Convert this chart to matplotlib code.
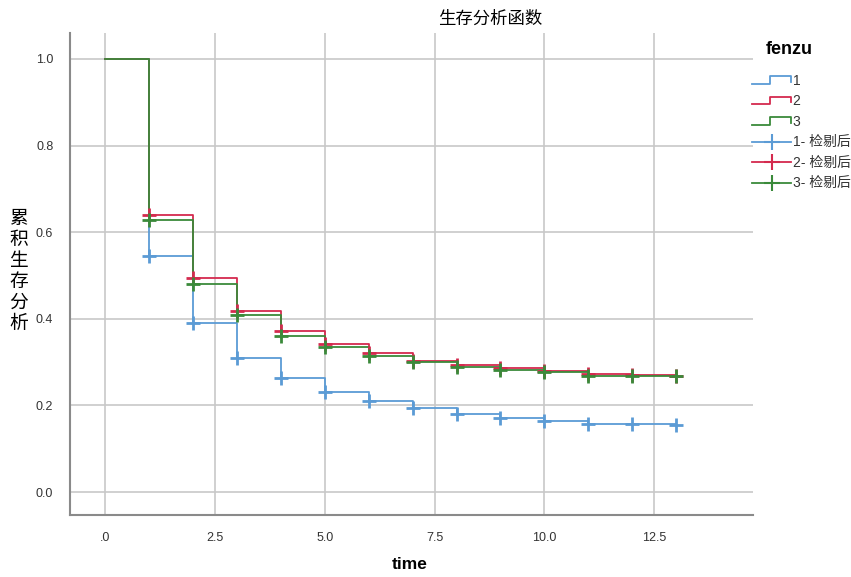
import matplotlib
matplotlib.use('Agg')
import matplotlib.pyplot as plt
from matplotlib.lines import Line2D
from matplotlib.legend_handler import HandlerBase

plt.rcParams['font.family'] = ['Liberation Sans', 'Noto Sans CJK SC', 'DejaVu Sans']

# survival data
times = [0, 1, 2, 3, 4, 5, 6, 7, 8, 9, 10, 11, 12, 13]
surv_1 = [1.0, 0.545, 0.390, 0.310, 0.264, 0.232, 0.211, 0.193, 0.181, 0.172, 0.165, 0.158, 0.156, 0.155]
surv_2 = [1.0, 0.639, 0.493, 0.418, 0.372, 0.342, 0.321, 0.303, 0.294, 0.286, 0.279, 0.273, 0.270, 0.269]
surv_3 = [1.0, 0.627, 0.481, 0.409, 0.360, 0.334, 0.315, 0.300, 0.288, 0.282, 0.277, 0.269, 0.267, 0.267]
groups = ['1', '2', '3']
censor_labels = ['1- 检剔后', '2- 检剔后', '3- 检剔后']
x_ticks = [0, 2.5, 5.0, 7.5, 10.0, 12.5]
x_ticklabels = ['.0', '2.5', '5.0', '7.5', '10.0', '12.5']
y_ticks = [0.0, 0.2, 0.4, 0.6, 0.8, 1.0]
y_ticklabels = ['0.0', '0.2', '0.4', '0.6', '0.8', '1.0']

colors = ['#5b9bd5', '#d42a4e', '#3a8a3a']


class StepHandler(HandlerBase):
    def create_artists(self, legend, orig_handle, xdescent, ydescent, width, height, fontsize, trans):
        lo = -ydescent + height * 0.1
        hi = -ydescent + height * 0.9
        xs = [-xdescent, -xdescent + width * 0.45, -xdescent + width * 0.45,
              -xdescent + width, -xdescent + width]
        ys = [lo, lo, hi, hi, lo + (hi - lo) * 0.3]
        line = Line2D(xs, ys, color=orig_handle.get_color(), lw=1.3, transform=trans)
        return [line]


fig = plt.figure(figsize=(8.51, 5.77), dpi=100)
ax = fig.add_axes([0.0823, 0.1075, 0.8025, 0.8355])

all_surv = [surv_1, surv_2, surv_3]
for s, c in zip(all_surv, colors):
    ax.step(times, s, where='post', color=c, lw=1.3, zorder=3)
for s, c in zip(all_surv, colors):
    ax.plot(times[1:], s[1:], ls='none', marker='+', ms=10, mew=2, color=c, zorder=4)

ax.set_xlim(-0.8, 14.75)
ax.set_ylim(-0.053, 1.06)
ax.set_xticks(x_ticks)
ax.set_xticklabels(x_ticklabels)
ax.set_yticks(y_ticks)
ax.set_yticklabels(y_ticklabels)
ax.tick_params(length=0, labelsize=9, colors='#333333', pad=12)
ax.grid(True, color='#c8c8c8', lw=1.2)
ax.set_axisbelow(True)
for side in ['top', 'right']:
    ax.spines[side].set_visible(False)
for side in ['left', 'bottom']:
    ax.spines[side].set_color('#8a8a8a')
    ax.spines[side].set_linewidth(1.5)

fig.text(0.482, 0.021, 'time', fontsize=12.5, fontweight='bold', ha='center', va='center')
fig.text(0.022, 0.53, '累\n积\n生\n存\n分\n析', fontsize=13.5, ha='center', va='center',
         family=['Noto Sans CJK SC'], linespacing=1.0)
fig.text(0.576, 0.968, '生存分析函数', fontsize=12.5, ha='center', va='center',
         family=['Noto Sans CJK SC'])
fig.text(0.928, 1 - 50 / 577, 'fenzu', fontsize=13, fontweight='bold', ha='center', va='center')

step_handles = [Line2D([], [], color=c) for c in colors]
cens_handles = [Line2D([], [], color=c, lw=1.3, marker='+', ms=12, mew=1.5) for c in colors]
leg = ax.legend(step_handles + cens_handles, groups + censor_labels,
                handler_map={h: StepHandler() for h in step_handles},
                loc='upper left', bbox_to_anchor=(0.997, 0.918), frameon=False,
                prop={'family': ['Liberation Sans', 'Noto Sans CJK SC'], 'size': 10},
                handlelength=2.8, handletextpad=0.1, labelspacing=0.47, borderaxespad=0,
                borderpad=0.1)
for t in leg.get_texts():
    t.set_color('#333333')

fig.savefig('out.png', dpi=100)
